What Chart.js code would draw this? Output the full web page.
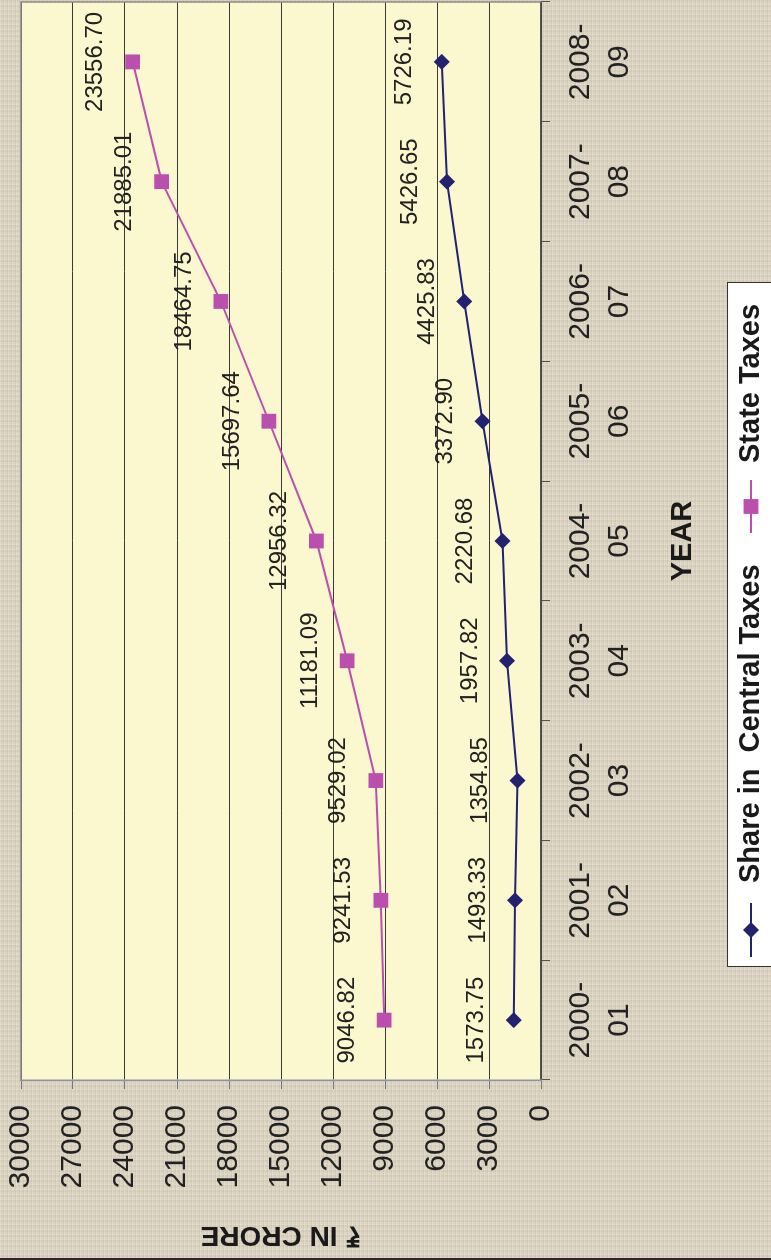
<!DOCTYPE html>
<html>
<head>
<meta charset="utf-8">
<script src="https://cdn.jsdelivr.net/npm/chart.js@4.4.1/dist/chart.umd.min.js"></script>
<style>
  html, body {
    margin: 0;
    padding: 0;
    width: 771px;
    height: 1260px;
    overflow: hidden;
    background-color: #dcd3c1;
    background-image:
      repeating-linear-gradient(90deg, rgba(255,255,255,0.14) 0px, rgba(255,255,255,0.14) 1px, rgba(0,0,0,0) 1px, rgba(0,0,0,0) 3px, rgba(90,80,60,0.06) 3px, rgba(90,80,60,0.06) 4px),
      repeating-linear-gradient(0deg, rgba(255,255,255,0.12) 0px, rgba(255,255,255,0.12) 1px, rgba(0,0,0,0) 1px, rgba(0,0,0,0) 3px, rgba(90,80,60,0.05) 3px, rgba(90,80,60,0.05) 5px);
  }
  /* el grafico se dibuja horizontal y se gira 90 grados */
  #caja {
    position: absolute;
    left: 0;
    top: 0;
    width: 1260px;
    height: 771px;
    transform-origin: 0 0;
    transform: translateY(1260px) rotate(-90deg);
  }
</style>
</head>
<body>
<div id="caja"><canvas id="grafico" width="1260" height="771"></canvas></div>
<script>
const anios = [
  ["2000-", "01"],
  ["2001-", "02"],
  ["2002-", "03"],
  ["2003-", "04"],
  ["2004-", "05"],
  ["2005-", "06"],
  ["2006-", "07"],
  ["2007-", "08"],
  ["2008-", "09"],
];
const share_central = [1573.75, 1493.33, 1354.85, 1957.82, 2220.68, 3372.9, 4425.83, 5426.65, 5726.19];
const state_taxes = [9046.82, 9241.53, 9529.02, 11181.09, 12956.32, 15697.64, 18464.75, 21885.01, 23556.7];
const nombres_series = ["Share in  Central Taxes", "State Taxes"];
const eje_y_min = 0;
const eje_y_max = 30000;
const eje_y_paso = 3000;

const fuente = "'Liberation Sans', Arial, sans-serif";
const color_central = "#222270";
const color_state = "#bb4fae";

// fondo amarillo del area de trazado
const plugin_fondo = {
  id: "fondo",
  beforeDraw: (chart) => {
    const { ctx, chartArea } = chart;
    ctx.save();
    ctx.fillStyle = "#fbf8d0";
    ctx.fillRect(chartArea.left, chartArea.top, chartArea.width, chartArea.height);
    // borde oscuro del marco exterior
    ctx.fillStyle = "#2a2a2a";
    ctx.fillRect(0, 0, 2, chart.height);
    ctx.restore();
  },
  beforeDatasetsDraw: (chart) => {
    const { ctx, chartArea } = chart;
    ctx.save();
    ctx.strokeStyle = "#8c8c8c";
    ctx.lineWidth = 1.5;
    ctx.beginPath();
    ctx.moveTo(chartArea.left, chartArea.top);
    ctx.lineTo(chartArea.right, chartArea.top);
    ctx.lineTo(chartArea.right, chartArea.bottom);
    ctx.stroke();
    ctx.restore();
  },
};

// etiquetas con el valor encima de cada punto
const plugin_etiquetas = {
  id: "etiquetas",
  afterDatasetsDraw: (chart) => {
    const { ctx } = chart;
    ctx.save();
    ctx.font = "24px " + fuente;
    ctx.fillStyle = "#222";
    ctx.textAlign = "center";
    ctx.textBaseline = "middle";
    chart.data.datasets.forEach((ds, i) => {
      const meta = chart.getDatasetMeta(i);
      meta.data.forEach((punto, j) => {
        ctx.fillText(ds.data[j].toFixed(2), punto.x, punto.y - 37);
      });
    });
    ctx.restore();
  },
};

// leyenda con linea y marcador, dentro de una caja blanca
const plugin_leyenda = {
  id: "leyenda",
  afterDraw: (chart) => {
    const { ctx } = chart;
    const y = 751;
    ctx.save();
    ctx.fillStyle = "#ffffff";
    ctx.fillRect(293, 727, 684, 60);
    ctx.strokeStyle = "#333";
    ctx.lineWidth = 1;
    ctx.strokeRect(293.5, 727.5, 684, 60);

    const entradas = [
      { x0: 303, x1: 357, texto_x: 377, ds: chart.data.datasets[0] },
      { x0: 727, x1: 780, texto_x: 797, ds: chart.data.datasets[1] },
    ];
    entradas.forEach((e) => {
      ctx.strokeStyle = e.ds.borderColor;
      ctx.lineWidth = 2;
      ctx.beginPath();
      ctx.moveTo(e.x0, y);
      ctx.lineTo(e.x1, y);
      ctx.stroke();
      const cx = (e.x0 + e.x1) / 2;
      ctx.fillStyle = e.ds.pointBackgroundColor;
      ctx.beginPath();
      if (e.ds.pointStyle === "rectRot") {
        const r = e.ds.pointRadius;
        ctx.moveTo(cx - r, y);
        ctx.lineTo(cx, y - r);
        ctx.lineTo(cx + r, y);
        ctx.lineTo(cx, y + r);
        ctx.closePath();
      } else {
        const s = e.ds.pointRadius * Math.SQRT1_2;
        ctx.rect(cx - s, y - s, 2 * s, 2 * s);
      }
      ctx.fill();
      ctx.fillStyle = "#1a1a1a";
      ctx.font = "bold 29px " + fuente;
      ctx.textAlign = "left";
      ctx.textBaseline = "middle";
      ctx.fillText(e.ds.label, e.texto_x, y);
    });
    ctx.restore();
  },
};

const ctx = document.getElementById("grafico").getContext("2d");
const grafico = new Chart(ctx, {
  type: "line",
  data: {
    labels: anios,
    datasets: [
      {
        label: nombres_series[0],
        data: share_central,
        borderColor: color_central,
        backgroundColor: color_central,
        pointBackgroundColor: color_central,
        pointBorderColor: color_central,
        pointStyle: "rectRot",
        pointRadius: 8,
        pointBorderWidth: 0,
        borderWidth: 2,
        tension: 0,
      },
      {
        label: nombres_series[1],
        data: state_taxes,
        borderColor: color_state,
        backgroundColor: color_state,
        pointBackgroundColor: color_state,
        pointBorderColor: color_state,
        pointStyle: "rect",
        pointRadius: 10.5,
        pointBorderWidth: 0,
        borderWidth: 2,
        tension: 0,
      },
    ],
  },
  options: {
    responsive: false,
    devicePixelRatio: 1,
    animation: false,
    layout: {
      autoPadding: false,
      padding: { left: 2, right: 2, top: 21, bottom: 0 },
    },
    plugins: {
      legend: { display: false },
      tooltip: { enabled: false },
      title: { display: false },
    },
    scales: {
      x: {
        type: "category",
        offset: true,
        grid: {
          offset: true,
          drawOnChartArea: false,
          drawTicks: true,
          tickLength: 9,
          tickColor: "#555",
        },
        border: { color: "#555", width: 1.5 },
        ticks: {
          autoSkip: false,
          maxRotation: 0,
          minRotation: 0,
          padding: 11,
          color: "#222",
          font: { family: fuente, size: 30, lineHeight: 1.3 },
        },
        title: {
          display: true,
          text: "YEAR",
          color: "#1a1a1a",
          font: { family: fuente, size: 29, weight: "bold", lineHeight: 1.2 },
          padding: { top: 0, bottom: 71 },
        },
        afterFit: (scale) => {
          scale.height = 230;
          scale.paddingLeft = 0;
          scale.paddingRight = 0;
        },
      },
      y: {
        min: eje_y_min,
        max: eje_y_max,
        grid: {
          color: "#3a3a3a",
          lineWidth: 1,
          tickLength: 9,
          tickColor: "#777",
        },
        border: { color: "#8a94a6", width: 1.5 },
        ticks: {
          stepSize: eje_y_paso,
          padding: 16,
          color: "#222",
          font: { family: fuente, size: 30 },
          callback: function (value) {
            return value;
          },
        },
        title: {
          display: true,
          text: "₹ IN CRORE",
          color: "#1a1a1a",
          font: { family: fuente, size: 28, weight: "bold", lineHeight: 1.2 },
          padding: { top: 6, bottom: 0 },
        },
        afterFit: (scale) => {
          scale.width = 178;
          scale.paddingTop = 0;
          scale.paddingBottom = 0;
        },
      },
    },
  },
  plugins: [plugin_fondo, plugin_etiquetas, plugin_leyenda],
});
</script>
</body>
</html>
